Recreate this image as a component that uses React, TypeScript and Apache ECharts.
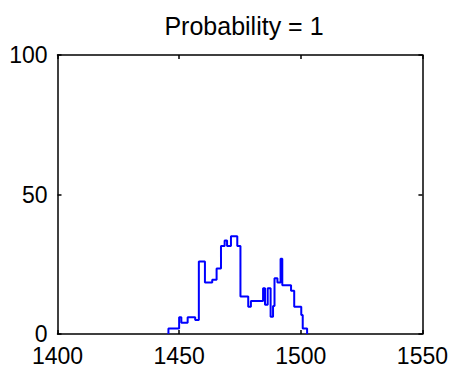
import React, { useEffect, useRef } from "react";
import * as echarts from "echarts";

const titleText = "Probability = 1";
const xTicks = [1400, 1450, 1500, 1550];
const yTicks = [0, 50, 100];
const stepX = [
  1445.6, 1445.6, 1450.0, 1450.9, 1453.5, 1456.6, 1458.1, 1460.6, 1463.6, 1465.4,
  1467.2, 1468.7, 1469.7, 1471.3, 1473.9, 1475.2, 1478.4, 1479.5, 1484.5, 1485.3,
  1486.4, 1487.6, 1488.6, 1489.2, 1490.4, 1491.7, 1492.4, 1496.0, 1497.3, 1500.2,
  1500.8, 1502.6,
];
const stepY = [
  0, 2, 6, 4, 6, 5, 26, 18.5, 19.4, 23.5,
  31.5, 33.5, 31.5, 35, 31.5, 13.4, 9.8, 11.8, 16.4, 10.5,
  16.4, 6.2, 10, 20, 18.5, 27, 17.5, 15.5, 9.8, 6.8,
  2, 0,
];

export default function App() {
  const ref = useRef<HTMLDivElement>(null);
  useEffect(() => {
    if (!ref.current) return;
    const chart = echarts.init(ref.current, undefined, { renderer: "svg" });
    const font = "Liberation Sans, Arial, sans-serif";
    const axisCommon = {
      min: xTicks[0],
      max: xTicks[xTicks.length - 1],
      interval: xTicks[1] - xTicks[0],
    };
    const yCommon = {
      min: yTicks[0],
      max: yTicks[yTicks.length - 1],
      interval: yTicks[1] - yTicks[0],
    };
    const lineStyle = { color: "#000", width: 1.5 };
    const plain = (v: number) => String(v);
    chart.setOption({
      animation: false,
      backgroundColor: "#fff",
      title: {
        text: titleText,
        left: 239,
        textAlign: "center",
        top: 8,
        textStyle: { fontFamily: font, fontSize: 25, fontWeight: "normal", color: "#000" },
      },
      grid: { left: 57.5, right: 26, top: 55, bottom: 37, containLabel: false },
      xAxis: [
        {
          type: "value",
          ...axisCommon,
          position: "bottom",
          axisLine: { show: true, onZero: false, lineStyle },
          axisTick: { show: true, inside: true, length: 4, lineStyle },
          splitLine: { show: false },
          axisLabel: { fontFamily: font, fontSize: 23, color: "#000", margin: 10, formatter: plain },
        },
        {
          type: "value",
          ...axisCommon,
          position: "top",
          axisLine: { show: true, onZero: false, lineStyle },
          axisTick: { show: true, inside: true, length: 4, lineStyle },
          splitLine: { show: false },
          axisLabel: { show: false },
        },
      ],
      yAxis: [
        {
          type: "value",
          ...yCommon,
          position: "left",
          axisLine: { show: true, onZero: false, lineStyle },
          axisTick: { show: true, inside: true, length: 4, lineStyle },
          splitLine: { show: false },
          axisLabel: { fontFamily: font, fontSize: 23, color: "#000", margin: 10, formatter: plain },
        },
        {
          type: "value",
          ...yCommon,
          position: "right",
          axisLine: { show: true, onZero: false, lineStyle },
          axisTick: { show: true, inside: true, length: 4, lineStyle },
          splitLine: { show: false },
          axisLabel: { show: false },
        },
      ],
      series: [
        {
          type: "line",
          step: "end",
          xAxisIndex: 0,
          yAxisIndex: 0,
          showSymbol: false,
          symbol: "none",
          data: stepX.map((x, i) => [x, stepY[i]]),
          lineStyle: { color: "#0000ff", width: 2 },
        },
      ],
    });
    return () => chart.dispose();
  }, []);
  return (
    <div
      ref={ref}
      style={{ position: "fixed", left: 0, top: 0, width: 451, height: 371 }}
    />
  );
}
